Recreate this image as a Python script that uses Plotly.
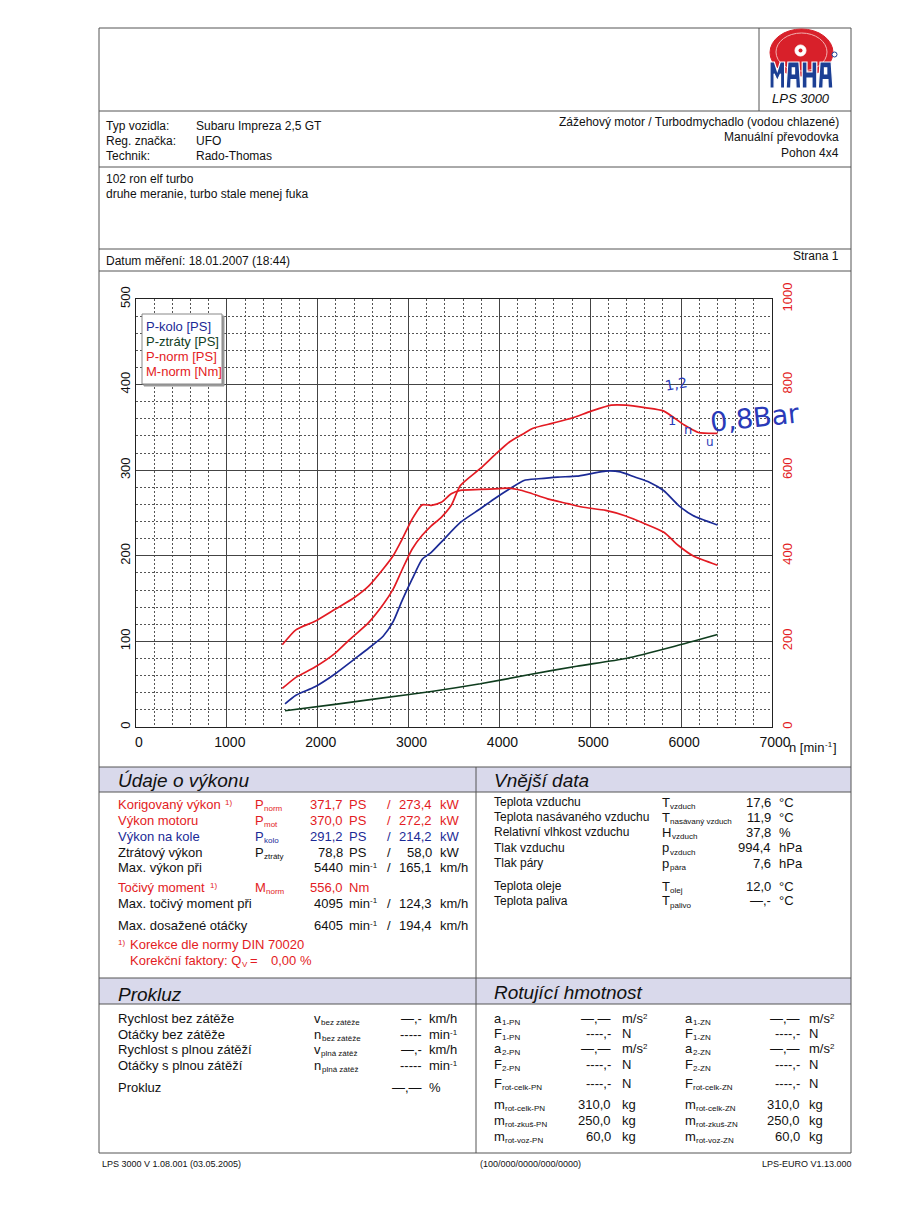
import plotly.graph_objects as go

# ---------------- data ----------------
rpm_kolo = [1640, 1760, 1970, 2190, 2400, 2560, 2720, 2830, 2930, 3040, 3150, 3250, 3360, 3570, 3790,
            3950, 4110, 4270, 4430, 4640, 4850, 5010, 5170, 5330, 5490, 5650, 5810, 5970, 6130, 6400]
p_kolo = [27, 37, 47, 62, 79, 92, 106, 123, 148, 173, 196, 204, 216, 239, 255,
          267, 278, 288, 290, 292, 293, 296, 299, 298, 292, 286, 276, 259, 247, 236]

rpm_loss = [1640, 2190, 2720, 3250, 3790, 4320, 4850, 5390, 5920, 6400]
p_loss = [19, 26.5, 34, 41.5, 50.5, 61, 71, 80, 94, 108]

rpm_norm = [1610, 1760, 1970, 2190, 2350, 2560, 2720, 2830, 2930, 3040, 3150, 3250, 3360, 3470, 3570,
            3790, 3950, 4110, 4270, 4370, 4590, 4800, 5010, 5230, 5390, 5600, 5810, 6030, 6190, 6400]
p_norm = [45, 58, 70, 86, 102, 122, 143, 161, 184, 208, 224, 235, 245, 259, 282,
          302, 318, 333, 343, 349, 355, 361, 369, 376, 376, 373, 369, 353, 344, 343]

rpm_m = [1610, 1760, 1970, 2190, 2400, 2560, 2720, 2830, 2930, 3040, 3150, 3250, 3360, 3470, 3570,
         3790, 4000, 4100, 4200, 4320, 4530, 4750, 4910, 5170, 5390, 5600, 5810, 5970, 6130, 6400]
m_norm = [192, 227, 247, 275, 302, 329, 369, 400, 439, 486, 519, 518, 525, 545, 553,
          555, 557, 558, 555, 548, 533, 522, 514, 506, 493, 475, 455, 424, 400, 378]

x_ticks = [0, 1000, 2000, 3000, 4000, 5000, 6000, 7000]
y_ticks_ps = [0, 100, 200, 300, 400, 500]
y_ticks_nm = [0, 200, 400, 600, 800, 1000]

BLUE = "#1b2a96"
GREEN = "#0f3d1e"
RED = "#e31b23"
BLACK = "#111111"
INK = "#2a3ab8"
FONT = "Liberation Sans, Arial, sans-serif"

W, H = 900, 1212
OFF = 8  # page body margin offset
def X(px): return (px - OFF) / W
def Y(py): return 1 - (py - OFF) / H

# approximate Arial / Liberation Sans advance widths (em/1000)
_AW = {" ": 278, "!": 278, "(": 333, ")": 333, ",": 278, "-": 333, ".": 278, "/": 278, ":": 278, "=": 584,
       "[": 278, "]": 278, "%": 889, "°": 400, "—": 1000,
       "A": 667, "B": 667, "C": 722, "D": 722, "E": 667, "F": 611, "G": 778, "H": 722, "I": 278, "J": 500,
       "K": 667, "L": 556, "M": 833, "N": 722, "O": 778, "P": 667, "Q": 778, "R": 722, "S": 667, "T": 611,
       "U": 722, "V": 667, "W": 944, "X": 667, "Y": 667, "Z": 611,
       "a": 556, "b": 556, "c": 500, "d": 556, "e": 556, "f": 278, "g": 556, "h": 556, "i": 222, "j": 222,
       "k": 500, "l": 222, "m": 833, "n": 556, "o": 556, "p": 556, "q": 556, "r": 333, "s": 500, "t": 278,
       "u": 556, "v": 500, "w": 722, "x": 500, "y": 500, "z": 500,
       "á": 556, "č": 500, "ě": 556, "é": 556, "í": 278, "ř": 333, "š": 500, "ý": 500, "ž": 500, "ů": 556}
def tw(s, size):
    return sum(_AW.get(c, 556) for c in s) * size / 1000.0

fig = go.Figure()
fig.add_trace(go.Scatter(x=rpm_kolo, y=p_kolo, mode="lines", line=dict(color=BLUE, width=1.7, shape="spline", smoothing=0.6), name="P-kolo [PS]"))
fig.add_trace(go.Scatter(x=rpm_loss, y=p_loss, mode="lines", line=dict(color=GREEN, width=1.7, shape="spline", smoothing=0.6), name="P-ztráty [PS]"))
fig.add_trace(go.Scatter(x=rpm_norm, y=p_norm, mode="lines", line=dict(color=RED, width=1.7, shape="spline", smoothing=0.6), name="P-norm [PS]"))
fig.add_trace(go.Scatter(x=rpm_m, y=m_norm, mode="lines", line=dict(color=RED, width=1.7, shape="spline", smoothing=0.6), name="M-norm [Nm]", yaxis="y2"))

shapes = []
ann = []

def line(x0, y0, x1, y1, color="#555", width=1):
    shapes.append(dict(type="line", xref="paper", yref="paper", x0=X(x0), y0=Y(y0), x1=X(x1), y1=Y(y1),
                       line=dict(color=color, width=width)))

def rect(x0, y0, x1, y1, fill=None, color="#555", width=1, layer="below"):
    shapes.append(dict(type="rect", xref="paper", yref="paper", x0=X(x0), y0=Y(y0), x1=X(x1), y1=Y(y1),
                       fillcolor=fill if fill else "rgba(0,0,0,0)", line=dict(color=color, width=width), layer=layer))

def txt(x, y, s, size=12, color=BLACK, anchor="left", angle=0, family=FONT):
    ann.append(dict(x=X(x), y=Y(y), xref="paper", yref="paper", text=s, showarrow=False, xanchor=anchor,
                    yanchor="middle", textangle=angle, borderpad=0, borderwidth=0,
                    font=dict(size=size, color=color, family=family)))

def subtxt(x, y, main, sub, size=13, color=BLACK, subsize=8):
    """main symbol with a lowered small index, left anchored at x"""
    txt(x, y, main, size=size, color=color)
    txt(x + tw(main, size) + 0.5, y + 4, sub, size=subsize, color=color)

def suptxt(x, y, main, sup, size=13, color=BLACK, supsize=8):
    """text followed by a small raised mark, left anchored at x"""
    txt(x, y, main, size=size, color=color)
    txt(x + tw(main, size) + 0.5, y - 2, sup, size=supsize, color=color)

# ---------------- page frame ----------------
HDR = "#d9d9eb"
rect(99, 767, 476, 792, fill=HDR, color="rgba(0,0,0,0)", width=0)
rect(476, 767, 851, 792, fill=HDR, color="rgba(0,0,0,0)", width=0)
rect(99, 978, 851, 1004, fill=HDR, color="rgba(0,0,0,0)", width=0)
rect(99, 28, 851, 1153, color="#555", width=1)
line(759, 28, 759, 111)
for yy in [111, 167, 249, 271, 767, 792, 978, 1004]:
    line(99, yy, 851, yy)
line(476, 767, 476, 1153)

# ---------------- logo ----------------
shapes.append(dict(type="circle", xref="paper", yref="paper", x0=X(770), x1=X(833), y0=Y(29), y1=Y(76),
                   fillcolor="#d8202a", line=dict(color="#d8202a", width=1), layer="above"))
shapes.append(dict(type="circle", xref="paper", yref="paper", x0=X(776), x1=X(827), y0=Y(33), y1=Y(71),
                   fillcolor="rgba(0,0,0,0)", line=dict(color="#f3b0b0", width=1), layer="above"))
shapes.append(dict(type="circle", xref="paper", yref="paper", x0=X(795), x1=X(806), y0=Y(45), y1=Y(56),
                   fillcolor="white", line=dict(color="white", width=1), layer="above"))
shapes.append(dict(type="circle", xref="paper", yref="paper", x0=X(798.5), x1=X(802.5), y0=Y(48.5), y1=Y(52.5),
                   fillcolor="#d8202a", line=dict(color="#d8202a", width=0), layer="above"))

def P(pts):
    return "M " + " L ".join(f"{X(a):.5f},{Y(b):.5f}" for a, b in pts) + " Z"

LB = "#1c3f94"
t, b = 62, 88
h = b - t
w = 14.6
xs = [770, 770 + w + 1.5, 770 + 2 * (w + 1.5), 770 + 3 * (w + 1.5)]
x0 = xs[0]
letters = []
letters.append([(x0, b), (x0, t), (x0 + w * 0.3, t), (x0 + w / 2, t + h * 0.35), (x0 + w * 0.7, t), (x0 + w, t),
                (x0 + w, b), (x0 + w * 0.72, b), (x0 + w * 0.72, t + h * 0.45), (x0 + w / 2, t + h * 0.72),
                (x0 + w * 0.28, t + h * 0.45), (x0 + w * 0.28, b)])
for x0 in [xs[1], xs[3]]:
    letters.append([(x0, b), (x0 + w * 0.12, t), (x0 + w * 0.88, t), (x0 + w, b), (x0 + w * 0.68, b),
                    (x0 + w * 0.66, t + h * 0.68), (x0 + w * 0.34, t + h * 0.68), (x0 + w * 0.32, b)])
x0 = xs[2]
letters.append([(x0, b), (x0, t), (x0 + w * 0.33, t), (x0 + w * 0.33, t + h * 0.38), (x0 + w * 0.67, t + h * 0.38),
                (x0 + w * 0.67, t), (x0 + w, t), (x0 + w, b), (x0 + w * 0.67, b), (x0 + w * 0.67, t + h * 0.62),
                (x0 + w * 0.33, t + h * 0.62), (x0 + w * 0.33, b)])
for pts in letters:
    shapes.append(dict(type="path", xref="paper", yref="paper", path=P(pts), fillcolor=LB,
                       line=dict(color="white", width=1.2), layer="above"))
for x0 in [xs[1], xs[3]]:
    shapes.append(dict(type="rect", xref="paper", yref="paper", x0=X(x0 + w * 0.38), x1=X(x0 + w * 0.62),
                       y0=Y(t + h * 0.2), y1=Y(t + h * 0.48), fillcolor="white", line=dict(width=0), layer="above"))
shapes.append(dict(type="circle", xref="paper", yref="paper", x0=X(832), x1=X(837), y0=Y(52), y1=Y(57),
                   fillcolor="white", line=dict(color=LB, width=1), layer="above"))
txt(801, 99, "<i>LPS 3000</i>", size=13, anchor="center")

# ---------------- header texts ----------------
txt(106, 126, "Typ vozidla:")
txt(196, 126, "Subaru Impreza 2,5 GT")
txt(106, 141, "Reg. značka:")
txt(196, 141, "UFO")
txt(106, 156, "Technik:")
txt(196, 156, "Rado-Thomas")
txt(839, 122, "Zážehový motor / Turbodmychadlo (vodou chlazené)", anchor="right")
txt(839, 137, "Manuální převodovka", anchor="right")
txt(839, 153, "Pohon 4x4", anchor="right")
txt(106, 179, "102 ron elf turbo")
txt(106, 194, "druhe meranie, turbo stale menej fuka")
txt(106, 261, "Datum měření: 18.01.2007 (18:44)")
txt(839, 256, "Strana 1", anchor="right")

# ---------------- chart legend & annotations ----------------
rect(144, 316, 224, 386, fill="#9a9a9a", color="#9a9a9a", width=1, layer="above")
rect(142, 314, 222, 384, fill="white", color="#888", width=1, layer="above")
txt(146, 326, "P-kolo [PS]", size=13, color=BLUE)
txt(146, 341.5, "P-ztráty [PS]", size=13, color=GREEN)
txt(146, 356.5, "P-norm [PS]", size=13, color=RED)
txt(146, 371.5, "M-norm [Nm]", size=13, color=RED)
nx = 789
txt(nx, 747, "n [min", size=13)
txt(nx + tw("n [min", 13) + 0.5, 745, "-1", size=8)
txt(nx + tw("n [min", 13) + tw("-1", 8) + 1, 747, "]", size=13)
# handwritten pen notes on the print-out
txt(664, 384, "1,2", size=14, color=INK, angle=-10, family="DejaVu Sans, sans-serif")
txt(668, 420, "1", size=13, color=INK, family="DejaVu Sans, sans-serif")
txt(684, 430, "n", size=13, color=INK, family="DejaVu Sans, sans-serif")
txt(706, 442, "u", size=12, color=INK, family="DejaVu Sans, sans-serif")
txt(709, 417, "0,8Bar", size=27, color=INK, angle=-6, family="DejaVu Sans, sans-serif")

# ---------------- Údaje o výkonu ----------------
txt(118, 780, "<i>Údaje o výkonu</i>", size=19)
rows = [
    (804, RED, "Korigovaný výkon", "1)", "P", "norm", "371,7", "PS", "273,4", "kW"),
    (820, RED, "Výkon motoru", "", "P", "mot", "370,0", "PS", "272,2", "kW"),
    (836, BLUE, "Výkon na kole", "", "P", "kolo", "291,2", "PS", "214,2", "kW"),
    (852, BLACK, "Ztrátový výkon", "", "P", "ztráty", "78,8", "PS", "58,0", "kW"),
    (867, BLACK, "Max. výkon při", "", "", "", "5440", "min", "165,1", "km/h"),
    (887, RED, "Točivý moment", "1)", "M", "norm", "556,0", "Nm", "", ""),
    (903, BLACK, "Max. točivý moment při", "", "", "", "4095", "min", "124,3", "km/h"),
    (925, BLACK, "Max. dosažené otáčky", "", "", "", "6405", "min", "194,4", "km/h"),
]
for (yy, col, lab, sup, sym, sub, v1, u1, v2, u2) in rows:
    if sup:
        suptxt(118, yy, lab + " ", sup, size=13, color=col)
    else:
        txt(118, yy, lab, size=13, color=col)
    if sym:
        subtxt(255, yy, sym, sub, size=13, color=col)
    txt(343, yy, v1, size=13, color=col, anchor="right")
    if u1 == "min":
        suptxt(349, yy, "min", "-1", size=13, color=col)
    else:
        txt(349, yy, u1, size=13, color=col)
    if v2:
        txt(389, yy, "/", size=13, color=col, anchor="center")
        txt(432, yy, v2, size=13, color=col, anchor="right")
        txt(440, yy, u2, size=13, color=col)
txt(118, 942, "1)", size=8, color=RED)
txt(130, 944, "Korekce dle normy DIN 70020", size=13, color=RED)
subtxt(130, 960, "Korekční faktory: Q", "V", size=13, color=RED)
txt(250, 960, "=", size=13, color=RED)
txt(271, 960, "0,00 %", size=13, color=RED)

# ---------------- Vnější data ----------------
txt(494, 780, "<i>Vnější data</i>", size=19)
ext = [
    (802, "Teplota vzduchu", "T", "vzduch", "17,6", "°C"),
    (817, "Teplota nasávaného vzduchu", "T", "nasávaný vzduch", "11,9", "°C"),
    (832, "Relativní vlhkost vzduchu", "H", "vzduch", "37,8", "%"),
    (848, "Tlak vzduchu", "p", "vzduch", "994,4", "hPa"),
    (863, "Tlak páry", "p", "pára", "7,6", "hPa"),
    (886, "Teplota oleje", "T", "olej", "12,0", "°C"),
    (901, "Teplota paliva", "T", "palivo", "—,-", "°C"),
]
for (yy, lab, sym, sub, v, u) in ext:
    txt(494, yy, lab, size=12)
    subtxt(662, yy, sym, sub, size=13, subsize=8)
    txt(771, yy, v, size=13, anchor="right")
    txt(779, yy, u, size=13)

# ---------------- Prokluz ----------------
txt(118, 994, "<i>Prokluz</i>", size=19)
prok = [
    (1018, "Rychlost bez zátěže", "v", "bez zátěže", "—,-", "km/h"),
    (1034, "Otáčky bez zátěže", "n", "bez zátěže", "-----", "min"),
    (1049, "Rychlost s plnou zátěží", "v", "plná zátěž", "—,-", "km/h"),
    (1065, "Otáčky s plnou zátěží", "n", "plná zátěž", "-----", "min"),
    (1087, "Prokluz", "", "", "—,—", "%"),
]
for (yy, lab, sym, sub, v, u) in prok:
    txt(118, yy, lab, size=13)
    if sym:
        subtxt(314, yy, sym, sub, size=13, subsize=8)
    txt(422, yy, v, size=13, anchor="right")
    if u == "min":
        suptxt(429, yy, "min", "-1", size=13)
    else:
        txt(429, yy, u, size=13)

# ---------------- Rotující hmotnost ----------------
txt(494, 992, "<i>Rotující hmotnost</i>", size=19)
rot_rows = [1018, 1033, 1048, 1064, 1083, 1104, 1120, 1136]
rot_sym = [("a", "1-"), ("F", "1-"), ("a", "2-"), ("F", "2-"), ("F", "rot-celk-"), ("m", "rot-celk-"),
           ("m", "rot-zkuš-"), ("m", "rot-voz-")]
rot_left_val = ["—,—", "----,-", "—,—", "----,-", "----,-", "310,0", "250,0", "60,0"]
rot_right_val = ["—,—", "----,-", "—,—", "----,-", "----,-", "310,0", "250,0", "60,0"]
rot_unit = ["m/s", "N", "m/s", "N", "N", "kg", "kg", "kg"]
for yy, (s, sb), v, v2, u in zip(rot_rows, rot_sym, rot_left_val, rot_right_val, rot_unit):
    subtxt(494, yy, s, sb + "PN", size=13, subsize=8)
    txt(611, yy, v, size=13, anchor="right")
    subtxt(685, yy, s, sb + "ZN", size=13, subsize=8)
    txt(800, yy, v2, size=13, anchor="right")
    if u == "m/s":
        suptxt(622, yy, u, "2", size=13)
        suptxt(809, yy, u, "2", size=13)
    else:
        txt(622, yy, u, size=13)
        txt(809, yy, u, size=13)

# ---------------- footer ----------------
txt(102, 1164, "LPS 3000 V 1.08.001 (03.05.2005)", size=9)
txt(530, 1164, "(100/000/0000/000/0000)", size=9, anchor="center")
txt(852, 1164, "LPS-EURO V1.13.000", size=9, anchor="right")

# ---------------- layout ----------------
dom_x = [X(136), X(772)]
dom_y = [Y(727), Y(299)]
fig.update_layout(
    width=W, height=H, margin=dict(l=0, r=0, t=0, b=0, pad=0, autoexpand=False),
    paper_bgcolor="white", plot_bgcolor="white", showlegend=False,
    font=dict(family=FONT, size=12, color=BLACK),
    xaxis=dict(domain=dom_x, range=[0, 7000], tickvals=x_ticks, showgrid=True, gridcolor="#444", gridwidth=1,
               minor=dict(dtick=200, tick0=0, showgrid=True, gridcolor="#555", griddash="2px,2px", gridwidth=1),
               showline=True, mirror=True, linecolor="#222", linewidth=1.2, ticks="", zeroline=False,
               automargin=False, tickfont=dict(size=14, color=BLACK), ticklabelstandoff=2, ticklabelshift=3),
    yaxis=dict(domain=dom_y, range=[0, 500], tickvals=y_ticks_ps, tickangle=-90, showgrid=True, gridcolor="#444",
               gridwidth=1, minor=dict(dtick=20, tick0=0, showgrid=True, gridcolor="#555", griddash="2px,2px", gridwidth=1),
               showline=True, mirror=True, linecolor="#222", linewidth=1.2, ticks="", zeroline=False,
               automargin=False, tickfont=dict(size=13, color=BLACK)),
    yaxis2=dict(overlaying="y", side="right", anchor="x", range=[0, 1000], tickvals=y_ticks_nm, tickangle=-90,
                showgrid=False, zeroline=False, ticks="", tickfont=dict(size=13, color=RED), showline=False,
                automargin=False, ticklabelstandoff=6),
    shapes=shapes, annotations=ann,
)

fig.write_html("out.html")
